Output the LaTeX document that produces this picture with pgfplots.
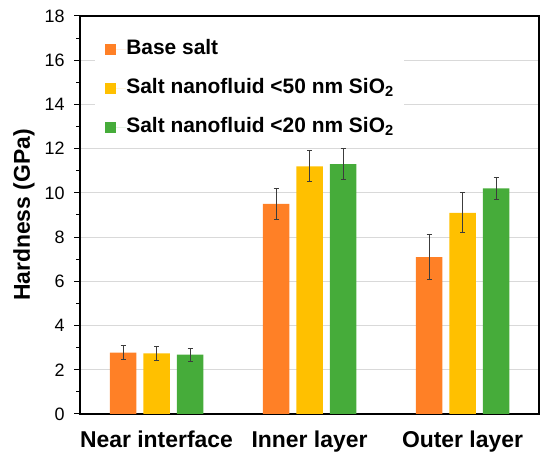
\documentclass[border=0pt]{standalone}
\usepackage{fontspec}
\setmainfont{Liberation Sans}
\usepackage{pgfplots}
\pgfplotsset{compat=1.18}
\definecolor{cOr}{RGB}{255,128,38}
\definecolor{cYe}{RGB}{255,192,0}
\definecolor{cGr}{RGB}{70,172,58}
\definecolor{cErr}{RGB}{60,60,60}
\begin{document}
\begin{tikzpicture}[x=1bp,y=1bp]
\path[use as bounding box] (0,0) rectangle (550,461);
\begin{axis}[
  at={(80bp,47bp)}, anchor=south west,
  width=459bp, height=398bp, scale only axis,
  xmin=-0.5, xmax=2.5, ymin=0, ymax=18,
  ytick={0,2,...,18}, minor ytick={1,3,...,17},
  xtick={0,1,2}, xticklabels={Near interface, Inner layer, Outer layer},
  x tick style={draw=none},
  tick align=outside, tick pos=left,
  major tick length=6bp, minor tick length=4bp,
  y tick style={black, line width=1bp},
  /pgf/number format/assume math mode=true,
  yticklabel style={font=\fontsize{18}{21}\selectfont, xshift=-6bp},
  xticklabel style={font=\fontsize{23}{27}\selectfont\bfseries, yshift=-7bp},
  ylabel={Hardness (GPa)}, ylabel shift=3bp,
  ylabel style={font=\fontsize{23}{27}\selectfont\bfseries},
  ymajorgrids, major grid style={color=black!15, line width=0.8bp},
  axis line style={black, line width=1.4bp},
  ybar, bar width=26.5bp,
  error bars/y dir=both, error bars/y explicit,
  error bars/error bar style={color=cErr, line width=0.8bp},
  error bars/error mark options={rotate=90, mark size=2.5bp, line width=0.8bp, color=cErr},
  legend image code/.code={\fill[#1, draw=none] (0bp,-5.5bp) rectangle (11bp,5.5bp); \path (0bp,0bp) -- (21bp,0bp);},
  legend cell align=left,
  legend style={at={(0.033,0.957)}, anchor=north west, draw=none, fill=white,
     font=\fontsize{21}{25}\selectfont\bfseries, row sep=19bp,
     nodes={inner sep=0pt, text height=15.5bp, text depth=4.5bp},
     inner xsep=10bp, inner ysep=6bp},
]
\addplot[fill=cOr, draw=none, bar shift=-33.5bp] coordinates {
  (0,2.78) +- (0,0.30)
  (1,9.50) +- (0,0.70)
  (2,7.10) +- (0,1.00)
};
\addplot[fill=cYe, draw=none, bar shift=0bp] coordinates {
  (0,2.74) +- (0,0.30)
  (1,11.20) +- (0,0.70)
  (2,9.10) +- (0,0.90)
};
\addplot[fill=cGr, draw=none, bar shift=33.5bp] coordinates {
  (0,2.68) +- (0,0.30)
  (1,11.30) +- (0,0.70)
  (2,10.20) +- (0,0.50)
};
\legend{Base salt, Salt nanofluid <50 nm SiO\textsubscript{2}, Salt nanofluid <20 nm SiO\textsubscript{2}}
\end{axis}
\end{tikzpicture}
\end{document}
